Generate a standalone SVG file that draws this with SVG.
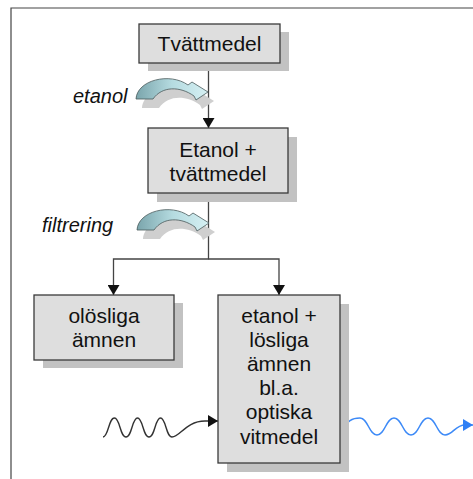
<svg xmlns="http://www.w3.org/2000/svg" width="473" height="479" viewBox="0 0 473 479">
<style>
.box{fill:#dedede;stroke:#3a3a3a;stroke-width:1.3}
.shadow{fill:#c2c2c2}
.t{font-family:"Liberation Sans",Arial,sans-serif;font-size:21px;fill:#111;text-anchor:middle}
.lbl{font-family:"Liberation Sans",Arial,sans-serif;font-size:20px;font-style:italic;fill:#111}
.conn{fill:none;stroke:#444;stroke-width:1.3}
.carrow{fill:url(#teal);stroke:#4a5a5c;stroke-width:0.8}
.cshadow{fill:#cfcfcf}
</style>
<defs>
<marker id="ah" markerWidth="10" markerHeight="12" refX="10" refY="6" orient="auto" markerUnits="userSpaceOnUse" viewBox="0 0 10 12">
<path d="M0,0 L10,6 L0,12 Z" fill="#111"/>
</marker>
<marker id="ahb" markerWidth="10" markerHeight="12" refX="10" refY="6" orient="auto" markerUnits="userSpaceOnUse" viewBox="0 0 10 12">
<path d="M0,0 L10,6 L0,12 Z" fill="#2f7ff5"/>
</marker>
<linearGradient id="teal" x1="0" y1="0" x2="1" y2="0">
<stop offset="0" stop-color="#7aa5ac"/>
<stop offset="0.5" stop-color="#b5dbe0"/>
<stop offset="1" stop-color="#d6f0f3"/>
</linearGradient>
<path id="curved" d="M136,99 C137,80 170,72 188,85 L192,82 L208,92 L196,100 L194,96 C180,86 162,86 153,99 Z"/>
</defs>

<path d="M11,479 L11,8 L473,8" fill="none" stroke="#444" stroke-width="1.2"/>

<g id="connectors">
<line class="conn" x1="208.5" y1="63" x2="208.5" y2="128" marker-end="url(#ah)"/>
<polyline class="conn" points="208.5,194 208.5,259 113.5,259 113.5,295" marker-end="url(#ah)"/>
<polyline class="conn" points="208.5,259 279,259 279,295" marker-end="url(#ah)"/>
<path d="M103,437 C108.5,437 108.5,418 114.5,418 C120,418 120,437 126,437 C132,437 132,418 137.5,418 C143,418 143,437 149,437 C155,437 155,418 160.5,418 C166,418 166,437 172,437 C180,437 186,421 205,421 L218,421" fill="none" stroke="#333" stroke-width="1.4" marker-end="url(#ah)"/>
<path d="M340,433 C348,420 352,418 360,418 C368,418 369,435 377,435 C385,435 386,418 394,418 C402,418 403,435 411,435 C419,435 420,418 428,418 C436,418 437,435 445,435 C453,435 455,425 465,425 L473,425" fill="none" stroke="#3d8af7" stroke-width="1.5" marker-end="url(#ahb)"/>
</g>

<g id="etanol-arrow">
<use href="#curved" class="cshadow" transform="translate(6,9)"/>
<use href="#curved" class="carrow"/>
<text class="lbl" x="73" y="103">etanol</text>
</g>

<g id="filtrering-arrow">
<use href="#curved" class="cshadow" transform="translate(7,140)"/>
<use href="#curved" class="carrow" transform="translate(1,131)"/>
<text class="lbl" x="42" y="232">filtrering</text>
</g>

<g id="n1">
<rect class="shadow" x="148" y="32" width="141" height="39"/>
<rect class="box" x="139" y="24" width="141" height="39"/>
<text class="t" x="209.5" y="51">Tvättmedel</text>
</g>

<g id="n2">
<rect class="shadow" x="157" y="137" width="140" height="65"/>
<rect class="box" x="148" y="128" width="140" height="65"/>
<text class="t" x="218" y="157">Etanol +</text>
<text class="t" x="218" y="181">tvättmedel</text>
</g>

<g id="n3">
<rect class="shadow" x="43" y="303" width="140" height="65"/>
<rect class="box" x="34" y="295" width="140" height="65"/>
<text class="t" x="104" y="323">olösliga</text>
<text class="t" x="104" y="347">ämnen</text>
</g>

<g id="n4">
<rect class="shadow" x="227" y="304" width="122" height="168"/>
<rect class="box" x="218" y="295" width="122" height="168"/>
<text class="t" x="279" y="323">etanol +</text>
<text class="t" x="279" y="347">lösliga</text>
<text class="t" x="279" y="371">ämnen</text>
<text class="t" x="279" y="395">bl.a.</text>
<text class="t" x="279" y="419">optiska</text>
<text class="t" x="279" y="444">vitmedel</text>
</g>
</svg>
